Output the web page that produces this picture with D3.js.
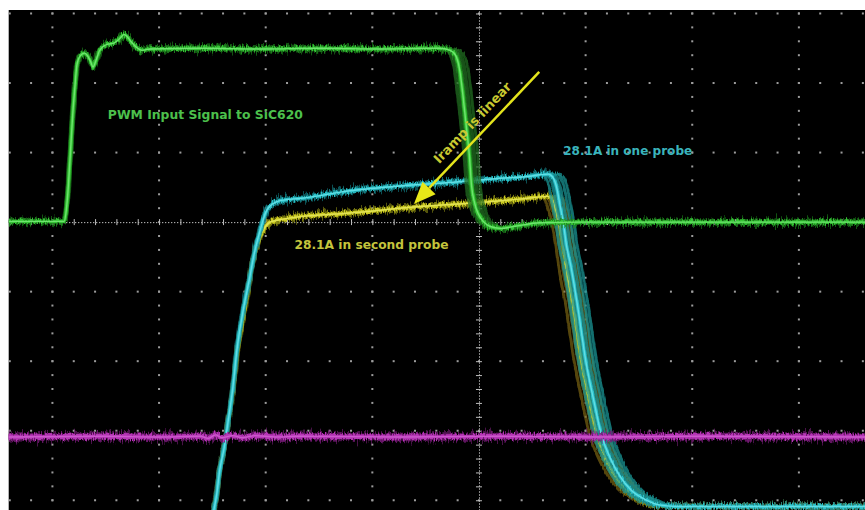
<!DOCTYPE html>
<html><head><meta charset="utf-8">
<script src="https://cdn.jsdelivr.net/npm/d3@7"></script>
<style>
html,body{margin:0;padding:0;background:#fff;}
svg{display:block;}
</style></head>
<body>
<svg id="c" width="865" height="510"></svg>
<script>
// ---- Data (time and amplitude in screen divisions, centre = 0,0) ----
const pwmRise = [[-4.41,0.01],[-3.89,0.01],[-3.87,0.17],[-3.85,0.53],[-3.83,1.03],[-3.81,1.54],[-3.79,1.93],[-3.77,2.26],[-3.74,2.39],[-3.70,2.43],[-3.67,2.39],[-3.64,2.30],[-3.62,2.23],[-3.59,2.33],[-3.56,2.46],[-3.52,2.53],[-3.48,2.56],[-3.43,2.57],[-3.39,2.61],[-3.35,2.67],[-3.33,2.70],[-3.30,2.67],[-3.26,2.59],[-3.21,2.51],[-3.16,2.47],[-3.08,2.49],[-2.61,2.50],[-2.05,2.49],[-1.49,2.50],[-0.93,2.49],[-0.46,2.50]];
const pwmFall = [[-0.37,2.50],[-0.27,2.47],[-0.22,2.40],[-0.18,2.18],[-0.15,1.82],[-0.12,1.39],[-0.09,0.96],[-0.07,0.53],[-0.04,0.27],[-0.01,0.13],[0.04,0.01],[0.10,-0.06],[0.20,-0.09],[0.34,-0.06],[0.57,-0.01],[0.95,0.00],[3.75,0.00]];
const pwmJitter = [-0.05,-0.025,0.025,0.05,0.08,0];

const probe1Rise = [[-2.49,-4.17],[-2.46,-3.92],[-2.43,-3.56],[-2.39,-3.25],[-2.35,-2.84],[-2.31,-2.41],[-2.27,-1.84],[-2.21,-1.26],[-2.15,-0.80],[-2.11,-0.47],[-2.07,-0.22],[-2.03,0.00],[-2.00,0.14],[-1.96,0.23],[-1.90,0.29],[-1.82,0.32],[-1.68,0.34],[-1.21,0.45],[-0.74,0.52],[-0.27,0.57],[0.20,0.63],[0.48,0.66]];
const probe1Fall = [[0.57,0.68],[0.65,0.69],[0.69,0.65],[0.73,0.49],[0.76,0.24],[0.79,0.00],[0.82,-0.33],[0.86,-0.62],[0.93,-1.26],[1.00,-1.98],[1.08,-2.59],[1.15,-3.07],[1.23,-3.39],[1.32,-3.65],[1.43,-3.86],[1.56,-3.99],[1.70,-4.07],[1.88,-4.09],[3.75,-4.09]];
const probeJitter = [-0.07,-0.035,0.035,0.07,0.1,0];

const probe2Rise = [[-2.49,-4.17],[-2.46,-3.92],[-2.43,-3.56],[-2.39,-3.25],[-2.35,-2.84],[-2.31,-2.44],[-2.27,-1.91],[-2.22,-1.44],[-2.17,-1.01],[-2.13,-0.62],[-2.08,-0.33],[-2.04,-0.16],[-2.00,-0.06],[-1.96,0.00],[-1.88,0.03],[-1.77,0.06],[-1.21,0.13],[-0.58,0.22],[0.07,0.29],[0.38,0.33],[0.64,0.37]];
const probe2Fall = [[0.67,0.36],[0.71,0.23],[0.75,0.00],[0.79,-0.33],[0.82,-0.66],[0.89,-1.26],[0.96,-1.98],[1.04,-2.59],[1.11,-3.07],[1.19,-3.39],[1.28,-3.65],[1.40,-3.86],[1.52,-3.99],[1.66,-4.07],[1.85,-4.09],[3.75,-4.09]];

const magentaTrace = [[-4.45,-3.09],[-3.55,-3.08],[-2.99,-3.09],[-2.61,-3.08],[-2.54,-3.11],[-2.47,-3.06],[-2.41,-3.10],[-2.31,-3.07],[-2.22,-3.10],[-2.10,-3.07],[-1.91,-3.09],[-1.68,-3.08],[-0.74,-3.09],[0.20,-3.08],[1.13,-3.09],[2.07,-3.08],[3.70,-3.09]];

const xMajorTicks = [-4,-3,-2,-1,0,1,2,3];
const yMajorTicks = [-4,-3,-2,-1,0,1,2,3];
const minorTicks = d3.range(-23, 20).map(i => i * 0.2);

const labelTexts = ["PWM Input Signal to SiC620", "28.1A in one probe", "28.1A in second probe", "Iramp is linear"];
const labelAt = [[-3.48, 1.48], [0.79, 0.965], [-1.73, -0.387]];
const arrowFrom = [0.565, 2.16];
const arrowTo = [-0.61, 0.26];

// ---- Layout ----
const W = 865, H = 510;
const L = 8.7, T = 10;
const x = d3.scaleLinear().domain([-4.41, 3.62]).range([L, W]);
const y = d3.scaleLinear().domain([-4.14, 3.05]).range([H, T]);

const svg = d3.select("#c");
const defs = svg.append("defs");
defs.append("clipPath").attr("id", "clip").append("rect")
  .attr("x", L).attr("y", T).attr("width", W - L).attr("height", H - T);

function noiseFilter(id, freq, scale, seed) {
  const f = defs.append("filter").attr("id", id)
    .attr("filterUnits", "userSpaceOnUse")
    .attr("x", 0).attr("y", 0).attr("width", W).attr("height", H);
  f.append("feTurbulence").attr("type", "fractalNoise")
    .attr("baseFrequency", freq).attr("numOctaves", 2).attr("seed", seed).attr("result", "n");
  f.append("feColorMatrix").attr("in", "n").attr("type", "matrix")
    .attr("values", "0 0 0 0 0.5  0 1 0 0 0  0 0 1 0 0  0 0 0 0 1").attr("result", "m");
  f.append("feDisplacementMap").attr("in", "SourceGraphic").attr("in2", "m")
    .attr("scale", scale).attr("xChannelSelector", "R").attr("yChannelSelector", "G");
}
noiseFilter("nz1", "0.8 0.05", 16, 2);
noiseFilter("nz2", "0.9 0.08", 7, 5);
noiseFilter("nz3", "0.7 0.06", 11, 9);

svg.append("rect").attr("x", L).attr("y", T).attr("width", W - L).attr("height", H - T).attr("fill", "#000");

const g = svg.append("g").attr("clip-path", "url(#clip)");

// ---- Graticule ----
const grid = g.append("g");
const dotColor = "#9c9c9c";
xMajorTicks.filter(v => v !== 0).forEach(xv => {
  grid.selectAll(null).data(minorTicks.filter(t => t > -4.2 && t < 3.1)).enter().append("rect")
    .attr("x", x(xv) - 1).attr("y", d => y(d) - 1).attr("width", 2).attr("height", 2).attr("fill", dotColor);
});
yMajorTicks.filter(v => v !== 0).forEach(yv => {
  grid.selectAll(null).data(minorTicks.filter(t => t > -4.5 && t < 3.7)).enter().append("rect")
    .attr("x", d => x(d) - 1).attr("y", y(yv) - 1).attr("width", 2).attr("height", 2).attr("fill", dotColor);
});
function styleAxis(sel) {
  sel.selectAll(".domain").attr("stroke", "#b4b4b4").attr("stroke-width", 1).attr("stroke-dasharray", "1,2");
  sel.selectAll(".tick line").attr("stroke", "#c0c0c0").attr("stroke-width", 1);
  sel.selectAll("text").remove();
}
const hTicks = minorTicks.filter(t => t > -4.5 && t < 3.7 && Math.abs(t) > 1e-6);
const vTicks = minorTicks.filter(t => t > -4.2 && t < 3.1 && Math.abs(t) > 1e-6);
grid.append("g").attr("transform", `translate(0,${y(0)})`)
  .call(d3.axisBottom(x).tickValues(hTicks).tickSize(3).tickSizeOuter(0)).call(styleAxis);
grid.append("g").attr("transform", `translate(0,${y(0)})`)
  .call(d3.axisTop(x).tickValues(hTicks).tickSize(3).tickSizeOuter(0)).call(styleAxis);
grid.append("g").attr("transform", `translate(${x(0)},0)`)
  .call(d3.axisLeft(y).tickValues(vTicks).tickSize(3).tickSizeOuter(0)).call(styleAxis);
grid.append("g").attr("transform", `translate(${x(0)},0)`)
  .call(d3.axisRight(y).tickValues(vTicks).tickSize(3).tickSizeOuter(0)).call(styleAxis);

// ---- Traces ----
const line = d3.line().x(d => x(d[0])).y(d => y(d[1])).curve(d3.curveMonotoneX);
const build = (rise, fall, j) => rise.concat(fall.map(p => [p[0] + j, p[1]]));

function drawTrace(data, glow, core, bright, w) {
  const t = g.append("g");
  t.append("path").attr("d", line(data)).attr("fill", "none")
    .attr("stroke", glow).attr("stroke-width", w + 3).attr("stroke-opacity", 0.6).attr("filter", "url(#nz1)");
  t.append("path").attr("d", line(data)).attr("fill", "none")
    .attr("stroke", glow).attr("stroke-width", w + 2).attr("stroke-opacity", 0.8).attr("filter", "url(#nz3)");
  t.append("path").attr("d", line(data)).attr("fill", "none")
    .attr("stroke", core).attr("stroke-width", w + 0.5).attr("filter", "url(#nz2)");
  t.append("path").attr("d", line(data)).attr("fill", "none")
    .attr("stroke", bright).attr("stroke-width", 1.4);
}
function drawGhost(data, col, op) {
  g.append("path").attr("d", line(data)).attr("fill", "none")
    .attr("stroke", col).attr("stroke-width", 3).attr("stroke-opacity", op).attr("filter", "url(#nz2)");
}

// yellow (second probe)
probeJitter.slice(0, -1).forEach(j => drawGhost(build(probe2Rise, probe2Fall, j), "#7a6414", 0.7));
drawTrace(build(probe2Rise, probe2Fall, 0), "#8c8c12", "#cccc24", "#e2e256", 2.8);

// cyan (first probe)
probeJitter.slice(0, -1).forEach(j => drawGhost(build(probe1Rise, probe1Fall, j), "#179494", 0.75));
drawTrace(build(probe1Rise, probe1Fall, 0), "#15868c", "#2cc0c8", "#62dee4", 2.8);

// magenta
drawTrace(magentaTrace, "#781c78", "#b634b6", "#cc5ccc", 4.4);

// green PWM
pwmJitter.slice(0, -1).forEach(j => drawGhost(build(pwmRise, pwmFall, j), "#1f6e1f", 0.75));
drawTrace(build(pwmRise, pwmFall, 0), "#1e8a1e", "#36c436", "#6ee46e", 2.8);

// ---- Annotations ----
const font = "'DejaVu Sans', Verdana, sans-serif";
const ann = svg.append("g").attr("font-family", font).attr("font-weight", "bold").attr("font-size", 12);
const labelColors = ["#4cc04c", "#3ab4bc", "#c4c43c"];
const labelWidths = [195, 129, 154];
labelTexts.slice(0, 3).forEach((s, i) => {
  ann.append("text").attr("x", x(labelAt[i][0])).attr("y", y(labelAt[i][1]))
    .attr("fill", labelColors[i]).attr("textLength", labelWidths[i])
    .attr("lengthAdjust", "spacingAndGlyphs").text(s);
});

// arrow
const ax0 = x(arrowFrom[0]), ay0 = y(arrowFrom[1]);
const ax1 = x(arrowTo[0]), ay1 = y(arrowTo[1]);
const dx = ax1 - ax0, dy = ay1 - ay0, len = Math.hypot(dx, dy);
const ux = dx / len, uy = dy / len;
const headL = 22, headW = 9;
const bx = ax1 - ux * headL, by = ay1 - uy * headL;
ann.append("line").attr("x1", ax0).attr("y1", ay0).attr("x2", bx).attr("y2", by)
  .attr("stroke", "#e4e41c").attr("stroke-width", 2.5);
ann.append("path")
  .attr("d", `M${ax1},${ay1}L${bx - uy * headW},${by + ux * headW}L${bx + uy * headW},${by - ux * headW}Z`)
  .attr("fill", "#e8e818");
const ang = Math.atan2(ay0 - ay1, ax0 - ax1) * 180 / Math.PI;
const mx = ax0 + dx * 0.455, my = ay0 + dy * 0.455;
const tx = mx - uy * 9, ty = my + ux * 9;
ann.append("text").attr("transform", `translate(${tx},${ty}) rotate(${ang})`)
  .attr("text-anchor", "middle").attr("fill", "#c8c830").attr("font-size", 13)
  .attr("textLength", 106).attr("lengthAdjust", "spacingAndGlyphs").text(labelTexts[3]);
</script>
</body></html>
